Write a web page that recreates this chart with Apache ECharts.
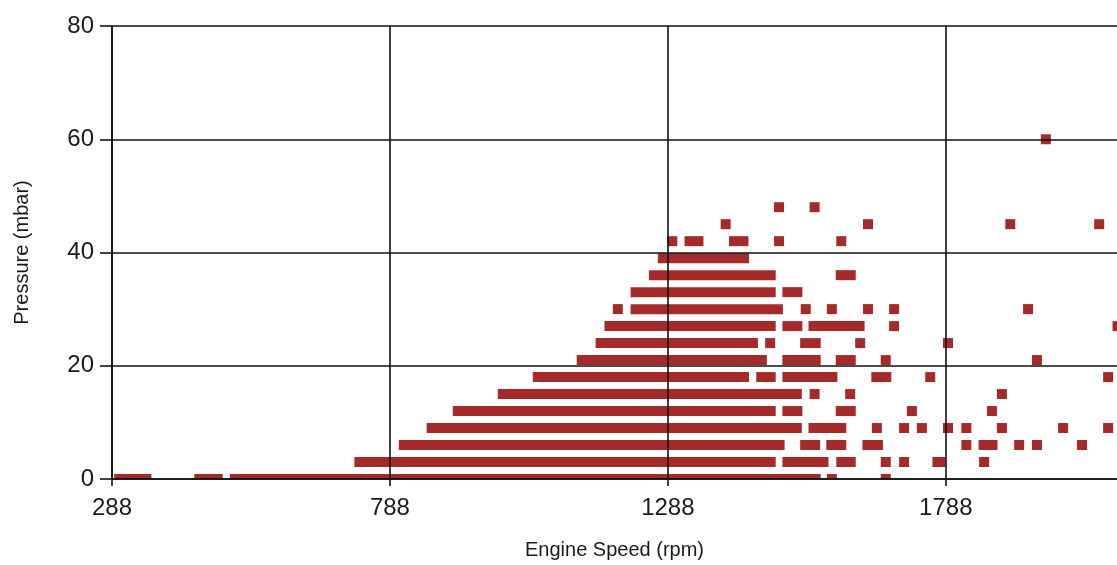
<!DOCTYPE html>
<html>
<head>
<meta charset="utf-8">
<script src="https://cdn.jsdelivr.net/npm/echarts@6/dist/echarts.min.js"></script>
<style>
html,body{margin:0;padding:0;background:#fff;}
#chart{width:1117px;height:565px;}
</style>
</head>
<body>
<div id="chart"></div>
<script>
// Pressure levels (mbar) and runs of samples at each level: [startRpm, endRpm]
const pressureLevels = [0, 3, 6, 9, 12, 15, 18, 21, 24, 27, 30, 33, 36, 39, 42, 45, 48, 60];
const runs0  = [[301,350],[445,478],[509,1554],[1583,1583],[1680,1680]];
const runs3  = [[733,1473],[1503,1568],[1600,1617],[1680,1680],[1713,1713],[1773,1778],[1857,1857]];
const runs6  = [[813,1489],[1535,1553],[1582,1600],[1647,1666],[1825,1825],[1856,1872],[1920,1920],[1952,1952],[2033,2033]];
const runs9  = [[863,1520],[1550,1600],[1664,1664],[1713,1713],[1745,1745],[1792,1792],[1825,1825],[1889,1889],[1999,1999],[2080,2080]];
const runs12 = [[910,1473],[1503,1521],[1599,1617],[1727,1727],[1871,1871]];
const runs15 = [[991,1520],[1552,1552],[1616,1616],[1889,1889]];
const runs18 = [[1054,1425],[1456,1473],[1503,1584],[1663,1681],[1760,1760],[2080,2080]];
const runs21 = [[1133,1457],[1503,1554],[1599,1617],[1680,1680],[1952,1952]];
const runs24 = [[1167,1441],[1472,1472],[1535,1554],[1634,1634],[1792,1792]];
const runs27 = [[1183,1473],[1503,1521],[1550,1633],[1695,1695],[2097,2097]];
const runs30 = [[1198,1198],[1230,1486],[1536,1536],[1583,1583],[1648,1648],[1695,1695],[1936,1936]];
const runs33 = [[1230,1473],[1503,1521]];
const runs36 = [[1263,1473],[1599,1617]];
const runs39 = [[1279,1425]];
const runs42 = [[1296,1296],[1327,1343],[1407,1424],[1488,1488],[1600,1600]];
const runs45 = [[1392,1392],[1648,1648],[1904,1904],[2064,2064]];
const runs48 = [[1488,1488],[1552,1552]];
const runs60 = [[1968,1968]];
const allRuns = [runs0, runs3, runs6, runs9, runs12, runs15, runs18, runs21, runs24, runs27, runs30, runs33, runs36, runs39, runs42, runs45, runs48, runs60];

const xTickValues = [288, 788, 1288, 1788];
const yTickValues = [0, 20, 40, 60, 80];

const data = [];
allRuns.forEach(function (runs, i) {
  runs.forEach(function (r) { data.push([r[0], r[1], pressureLevels[i]]); });
});

const MARK = '#A52A2A';
const HALF = 5;
const chart = echarts.init(document.getElementById('chart'), null, {renderer: 'canvas'});
chart.setOption({
  backgroundColor: '#ffffff',
  animation: false,
  grid: {left: 112, top: 26, right: 0, height: 457, containLabel: false},
  xAxis: {
    type: 'value', min: 288, max: 2096, z: 5,
    name: 'Engine Speed (rpm)', nameLocation: 'middle', nameGap: 61,
    nameTextStyle: {fontFamily: 'Liberation Sans', fontSize: 20, color: '#1a1a1a'},
    axisLine: {show: true, onZero: false, lineStyle: {color: '#111', width: 1.6}},
    axisTick: {show: true, length: 7, customValues: xTickValues, lineStyle: {color: '#111', width: 1.6}},
    axisLabel: {customValues: xTickValues, fontFamily: 'Liberation Sans', fontSize: 24, color: '#1a1a1a', margin: 17,
      formatter: function (v) { return String(v); }},
    splitLine: {show: true, lineStyle: {color: '#111', width: 1.6}}
  },
  yAxis: {
    type: 'value', min: 0, max: 80, interval: 20, z: 5,
    name: 'Pressure (mbar)', nameLocation: 'middle', nameGap: 80,
    nameTextStyle: {fontFamily: 'Liberation Sans', fontSize: 20, color: '#1a1a1a'},
    axisLine: {show: true, lineStyle: {color: '#111', width: 1.6}},
    axisTick: {show: true, length: 12, lineStyle: {color: '#111', width: 1.6}},
    axisLabel: {fontFamily: 'Liberation Sans', fontSize: 24, color: '#1a1a1a', margin: 18,
      formatter: function (v) { return yTickValues.indexOf(v) >= 0 ? String(v) : ''; }},
    splitLine: {show: true, lineStyle: {color: '#111', width: 1.6}}
  },
  series: [{
    type: 'custom',
    z: 2,
    clip: true,
    encode: {x: [0, 1], y: 2},
    data: data,
    renderItem: function (params, api) {
      const s = api.coord([api.value(0), api.value(2)]);
      const e = api.coord([api.value(1), api.value(2)]);
      return {
        type: 'rect',
        shape: {x: s[0] - HALF, y: s[1] - HALF, width: e[0] - s[0] + 2 * HALF, height: 2 * HALF},
        style: {fill: MARK}
      };
    }
  }]
});
</script>
</body>
</html>
